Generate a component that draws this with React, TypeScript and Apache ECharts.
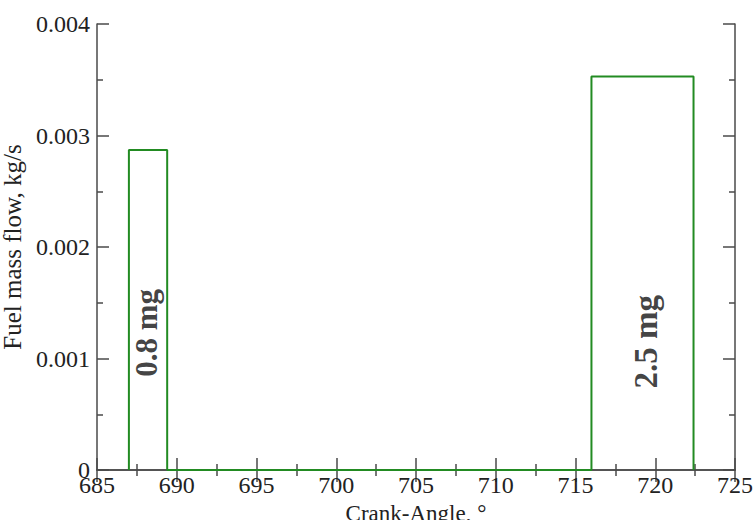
import React, { useEffect, useRef } from "react";
import * as echarts from "echarts";

const crankAngle = [687.0, 687.0, 689.4, 689.4, 716.0, 716.0, 722.4, 722.4];
const fuelFlow = [0, 0.00287, 0.00287, 0, 0, 0.00353, 0.00353, 0];
const annotationText = ["0.8 mg", "2.5 mg"];
const annotationX = [688.13, 719.42];
const annotationY = [0.00123, 0.00115];
const annotationSize = [31, 33];

const FONT = "'Liberation Serif', 'Times New Roman', serif";
const AXIS_COLOR = "#4a4a4a";
const GREEN = "#228b22";

export default function App() {
  const ref = useRef<HTMLDivElement>(null);
  useEffect(() => {
    if (!ref.current) return;
    const chart = echarts.init(ref.current, undefined, { renderer: "svg" });
    const lineData = crankAngle.map((x, i) => [x, fuelFlow[i]]);
    const labelData = annotationText.map((t, i) => ({
      value: [annotationX[i], annotationY[i]],
      label: {
        show: true,
        formatter: t,
        rotate: 90,
        position: "inside",
        fontSize: annotationSize[i],
        fontWeight: "bold",
        fontFamily: FONT,
        color: "#111",
      },
    }));
    const tickCommon = {
      show: true,
      inside: true,
      length: 12,
      lineStyle: { color: AXIS_COLOR, width: 1.5 },
    };
    const minorCommon = {
      show: true,
      splitNumber: 2,
      length: 6,
      lineStyle: { color: AXIS_COLOR, width: 1.5 },
    };
    const axisLine = { show: true, lineStyle: { color: AXIS_COLOR, width: 1.5 } };
    chart.setOption({
      animation: false,
      backgroundColor: "#fff",
      grid: {
        left: 97,
        top: 24,
        right: 21,
        bottom: 50,
        containLabel: false,
        outerBoundsMode: "none",
      },
      xAxis: [
        {
          type: "value",
          min: 685,
          max: 725,
          interval: 5,
          position: "bottom",
          name: "Crank-Angle, °",
          nameLocation: "middle",
          nameGap: 26,
          nameTextStyle: { fontFamily: FONT, fontSize: 23, color: "#222" },
          axisLine,
          axisTick: tickCommon,
          minorTick: minorCommon,
          splitLine: { show: false },
          axisLabel: { fontFamily: FONT, fontSize: 24, color: "#222", margin: 3 },
        },
        {
          type: "value",
          min: 685,
          max: 725,
          interval: 5,
          position: "top",
          axisLine,
          axisTick: tickCommon,
          minorTick: minorCommon,
          splitLine: { show: false },
          axisLabel: { show: false },
        },
      ],
      yAxis: [
        {
          type: "value",
          min: 0,
          max: 0.004,
          interval: 0.001,
          position: "left",
          name: "Fuel mass flow, kg/s",
          nameLocation: "middle",
          nameGap: 63,
          nameTextStyle: { fontFamily: FONT, fontSize: 25, color: "#222" },
          axisLine,
          axisTick: tickCommon,
          minorTick: minorCommon,
          splitLine: { show: false },
          axisLabel: {
            fontFamily: FONT,
            fontSize: 24,
            color: "#222",
            margin: 7,
            formatter: (v: number) => (v === 0 ? "0" : v.toFixed(3)),
          },
        },
        {
          type: "value",
          min: 0,
          max: 0.004,
          interval: 0.001,
          position: "right",
          axisLine,
          axisTick: tickCommon,
          minorTick: minorCommon,
          splitLine: { show: false },
          axisLabel: { show: false },
        },
      ],
      series: [
        {
          type: "line",
          data: lineData,
          showSymbol: false,
          symbol: "none",
          lineStyle: { color: GREEN, width: 2 },
          z: 3,
        },
        {
          type: "scatter",
          data: labelData,
          symbolSize: 1,
          itemStyle: { color: "rgba(0,0,0,0)" },
          silent: true,
          z: 4,
        },
      ],
    });
    return () => chart.dispose();
  }, []);
  return (
    <div
      ref={ref}
      style={{ position: "fixed", left: 0, top: 0, width: 756, height: 520, background: "#fff" }}
    />
  );
}
